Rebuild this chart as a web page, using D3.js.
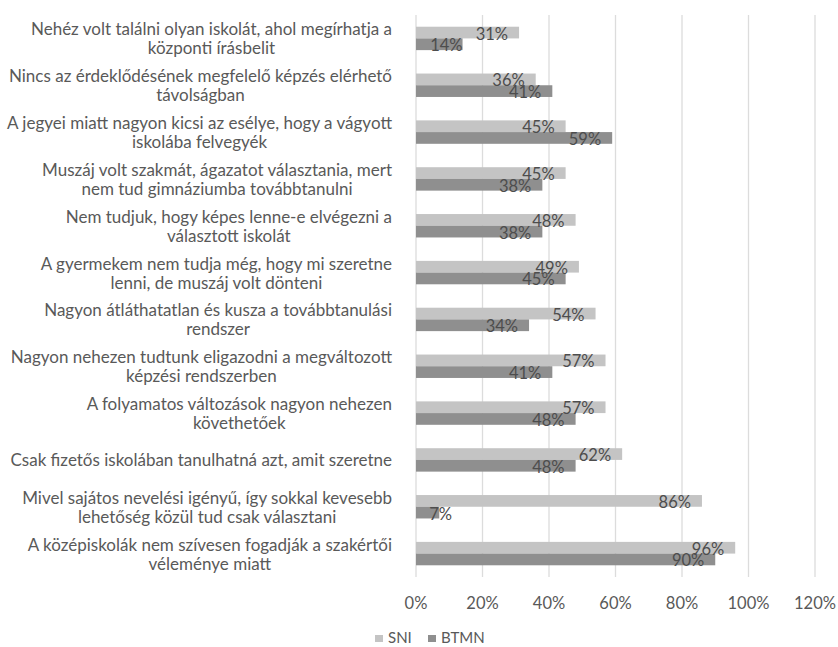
<!DOCTYPE html>
<html lang="hu">
<head>
<meta charset="utf-8">
<title>SNI / BTMN</title>
<script src="https://cdn.jsdelivr.net/npm/d3@7"></script>
<style>
  body { margin: 0; background: #fff; }
  text { font-family: Lato, "Open Sans", sans-serif; fill: #595959; }
</style>
</head>
<body>
<div id="chart"></div>
<script>

// categories, top to bottom (line breaks as in the picture)
var categories = [
  "Nehéz volt találni olyan iskolát, ahol megírhatja a\nközponti írásbelit",
  "Nincs az érdeklődésének megfelelő képzés elérhető\ntávolságban",
  "A jegyei miatt nagyon kicsi az esélye, hogy a vágyott\niskolába felvegyék",
  "Muszáj volt szakmát, ágazatot választania, mert\nnem tud gimnáziumba továbbtanulni",
  "Nem tudjuk, hogy képes lenne-e elvégezni a\nválasztott iskolát",
  "A gyermekem nem tudja még, hogy mi szeretne\nlenni, de muszáj volt dönteni",
  "Nagyon átláthatatlan és kusza a továbbtanulási\nrendszer",
  "Nagyon nehezen tudtunk eligazodni a megváltozott\nképzési rendszerben",
  "A folyamatos változások nagyon nehezen\nkövethetőek",
  "Csak fizetős iskolában tanulhatná azt, amit szeretne",
  "Mivel sajátos nevelési igényű, így sokkal kevesebb\nlehetőség közül tud csak választani",
  "A középiskolák nem szívesen fogadják a szakértői\nvéleménye miatt"
]

var series = ["SNI", "BTMN"]
var sniValues  = [0.31, 0.36, 0.45, 0.45, 0.48, 0.49, 0.54, 0.57, 0.57, 0.62, 0.86, 0.96]
var btmnValues = [0.14, 0.41, 0.59, 0.38, 0.38, 0.45, 0.34, 0.41, 0.48, 0.48, 0.07, 0.90]
var tickValues = [0, 0.2, 0.4, 0.6, 0.8, 1.0, 1.2]

var colors = { SNI: "#c4c4c4", BTMN: "#8f8f8f" }

var width = 838, height = 647

var rows = categories.map(function(c, i) {
  return { cat: c, SNI: sniValues[i], BTMN: btmnValues[i] }
})

var svg = d3.select("#chart")
  .append("svg")
  .attr("width", width)
  .attr("height", height)

var x = d3.scaleLinear()
  .domain([0, 1.2])
  .range([416, 815])

var y = d3.scaleBand()
  .domain(categories)
  .range([15, 577])
  .paddingInner(0.5)
  .paddingOuter(0.25)

var ySeries = d3.scaleBand()
  .domain(series)
  .range([0, y.bandwidth()])

// gridlines
svg.append("g")
  .selectAll("line")
  .data(tickValues)
  .enter()
  .append("line")
  .attr("x1", function(d) { return x(d) })
  .attr("x2", function(d) { return x(d) })
  .attr("y1", 15)
  .attr("y2", 577)
  .attr("stroke", "#dcdcdc")
  .attr("stroke-width", 1.3)

// x tick labels
svg.append("g")
  .selectAll("text")
  .data(tickValues)
  .enter()
  .append("text")
  .attr("x", function(d) { return x(d) })
  .attr("y", 603)
  .attr("text-anchor", "middle")
  .attr("dominant-baseline", "central")
  .style("font-size", "16.5px")
  .text(d3.format(".0%"))

// bars
var groups = svg.append("g")
  .selectAll("g")
  .data(rows)
  .enter()
  .append("g")
  .attr("transform", function(d) { return "translate(0," + y(d.cat) + ")" })

groups.selectAll("rect")
  .data(function(d) { return series.map(function(s) { return { key: s, value: d[s] } }) })
  .enter()
  .append("rect")
  .attr("x", x(0))
  .attr("y", function(d) { return ySeries(d.key) })
  .attr("width", function(d) { return x(d.value) - x(0) })
  .attr("height", ySeries.bandwidth())
  .attr("fill", function(d) { return colors[d.key] })

// data labels, near the inside end of each bar
groups.selectAll("text")
  .data(function(d) { return series.map(function(s) { return { key: s, value: d[s] } }) })
  .enter()
  .append("text")
  .attr("x", function(d) {
    var r = x(d.value) - 11
    if (r < x(0) + 40) r = Math.max(x(d.value), x(0) + 36)
    return r
  })
  .attr("y", function(d) { return ySeries(d.key) + ySeries.bandwidth() / 2 + 1 })
  .attr("text-anchor", "end")
  .attr("dominant-baseline", "central")
  .style("font-size", "16.5px")
  .style("fill", "#4d4d4d")
  .text(function(d) { return d3.format(".0%")(d.value) })

// category labels, wrapped lines centred in a right-aligned block
var labels = svg.append("g")
  .selectAll("g")
  .data(categories)
  .enter()
  .append("g")

labels.each(function(c) {
  var g = d3.select(this)
  var lines = c.split("\n")
  var lineH = 19
  var cy = y(c) + y.bandwidth() / 2
  var t = g.selectAll("text")
    .data(lines)
    .enter()
    .append("text")
    .attr("y", function(d, i) { return cy + (i - (lines.length - 1) / 2) * lineH })
    .attr("text-anchor", "middle")
    .attr("dominant-baseline", "central")
    .style("font-size", "17px")
    .text(function(d) { return d })
  var maxW = 0
  t.each(function() { maxW = Math.max(maxW, this.getComputedTextLength()) })
  t.attr("x", 392 - maxW / 2)
})

// legend
var legend = svg.append("g")
var lx = [375, 428]
series.forEach(function(s, i) {
  legend.append("rect")
    .attr("x", lx[i])
    .attr("y", 635)
    .attr("width", 8)
    .attr("height", 7)
    .attr("fill", colors[s])
  legend.append("text")
    .attr("x", lx[i] + 13)
    .attr("y", 637)
    .attr("dominant-baseline", "central")
    .style("font-size", "15px")
    .text(s)
})

</script>
</body>
</html>
